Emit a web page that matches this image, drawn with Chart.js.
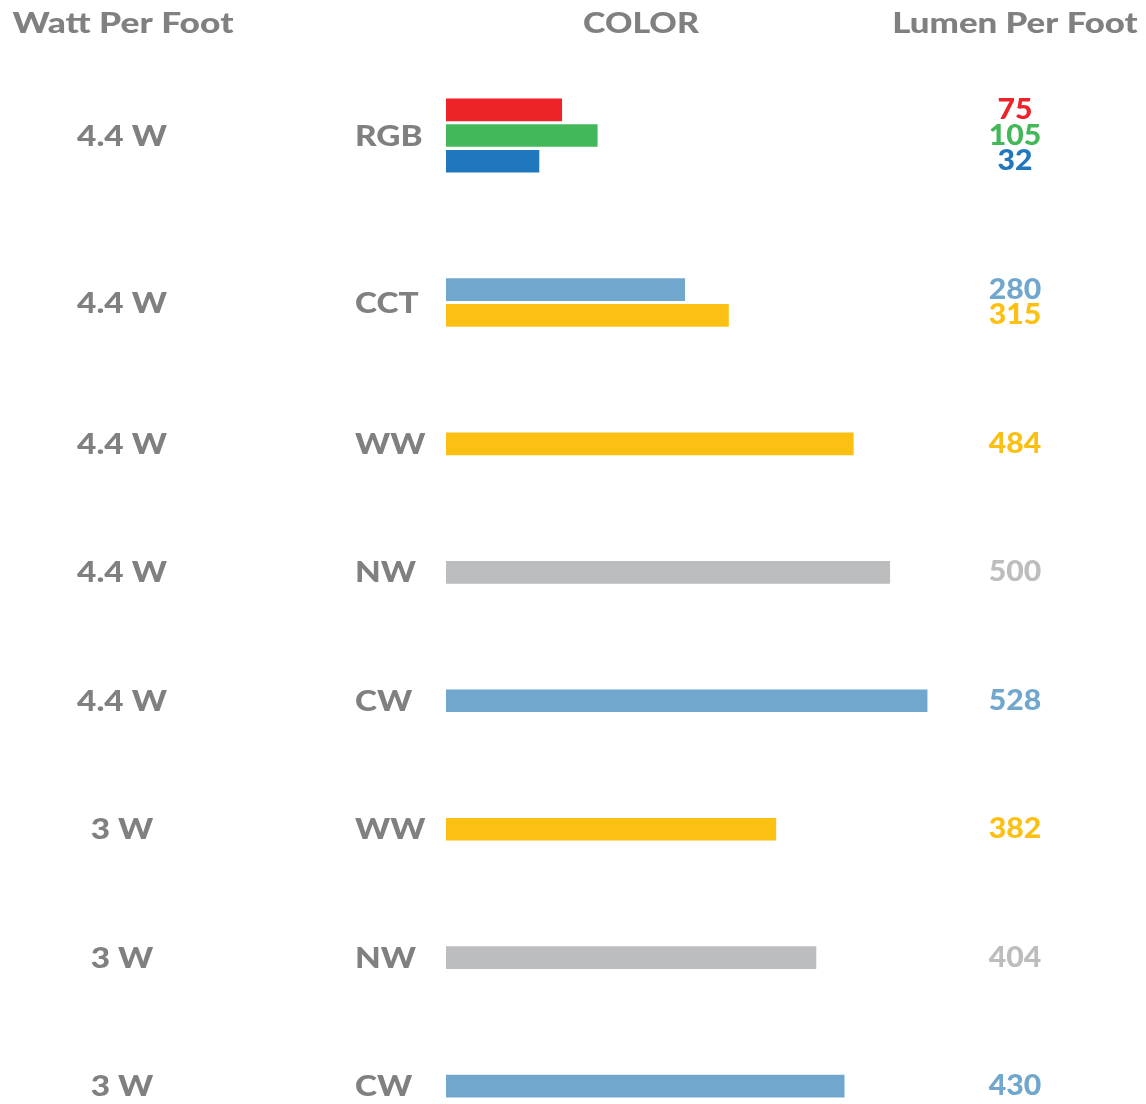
<!DOCTYPE html>
<html>
<head>
<meta charset="utf-8">
<title>Lumen Per Foot</title>
<script src="https://cdn.jsdelivr.net/npm/chart.js@4"></script>
<style>
  html, body { margin: 0; padding: 0; background: #fff; }
  canvas { display: block; }
</style>
</head>
<body>
<canvas id="myChart" width="1146" height="1104"></canvas>
<script>
// one entry per row group, top to bottom
const colorNames = ["RGB", "CCT", "WW", "NW", "CW", "WW", "NW", "CW"];
const wattLabels = ["4.4 W", "4.4 W", "4.4 W", "4.4 W", "4.4 W", "3 W", "3 W", "3 W"];
const lumenValues = [[75, 105, 32], [280, 315], [484], [500], [528], [382], [404], [430]];
// bar lengths as drawn in the picture (same scale as the CW 528 bar)
const barLengths = [[127, 166, 102], [262, 310], [447], [487], [528], [362], [406], [437]];
const barColors = [
  ["#ee2229", "#43b85a", "#1f77bd"],
  ["#71a7cc", "#fcc012"],
  ["#fcc012"],
  ["#bcbdbf"],
  ["#71a7cc"],
  ["#fcc012"],
  ["#bcbdbf"],
  ["#71a7cc"],
];
const headers = ["Watt Per Foot", "COLOR", "Lumen Per Foot"];

const textGray = "#808080";
const gapSlots = 4;

// lay the bars out on category slots, with empty slots between groups
const slotLabels = [];
const slotValues = [];
const slotColors = [];
const groupSlots = [];
colorNames.forEach((name, g) => {
  if (g > 0) {
    for (let k = 0; k < gapSlots; k++) {
      slotLabels.push("");
      slotValues.push(null);
      slotColors.push("rgba(0,0,0,0)");
    }
  }
  const idx = [];
  barLengths[g].forEach((v, b) => {
    idx.push(slotLabels.length);
    slotLabels.push(name + " " + b);
    slotValues.push(v);
    slotColors.push(barColors[g][b]);
  });
  groupSlots.push(idx);
});

// the original face is wider than Lato, so stretch it a little
function wideText(ctx, text, x, y, align, color, sx) {
  ctx.save();
  ctx.translate(x, y);
  ctx.scale(sx, 1);
  ctx.textAlign = align;
  ctx.fillStyle = color;
  ctx.fillText(text, 0, 0);
  ctx.restore();
}

const textPlugin = {
  id: "rowText",
  afterDraw(chart) {
    const ctx = chart.ctx;
    const y = chart.scales.y;
    ctx.save();
    ctx.textBaseline = "alphabetic";
    ctx.font = "900 29px Lato";
    wideText(ctx, headers[0], 123, 33, "center", textGray, 1.22);
    wideText(ctx, headers[1], 641, 33, "center", textGray, 1.17);
    wideText(ctx, headers[2], 1015, 33, "center", textGray, 1.2);

    groupSlots.forEach((idx, g) => {
      const ys = idx.map((i) => y.getPixelForValue(i));
      const mid = (ys[0] + ys[ys.length - 1]) / 2;
      wideText(ctx, wattLabels[g], 122, mid + 10, "center", textGray, 1.15);
      wideText(ctx, colorNames[g], 355, mid + 10, "left", textGray, 1.15);
      ys.forEach((py, b) => {
        wideText(ctx, String(lumenValues[g][b]), 1015, py + 9, "center", barColors[g][b], 1.04);
      });
    });
    ctx.restore();
  },
};

new Chart("myChart", {
  type: "bar",
  data: {
    labels: slotLabels,
    datasets: [
      {
        data: slotValues,
        backgroundColor: slotColors,
        barThickness: 22,
        borderWidth: 0,
      },
    ],
  },
  options: {
    indexAxis: "y",
    responsive: false,
    animation: false,
    layout: { padding: { left: 446, right: 146, top: 97, bottom: 5 } },
    scales: {
      x: { display: false, min: 0, max: 608 },
      y: { display: false },
    },
    plugins: {
      legend: { display: false },
      tooltip: { enabled: false },
      title: { display: false },
    },
  },
  plugins: [textPlugin],
});
</script>
</body>
</html>
